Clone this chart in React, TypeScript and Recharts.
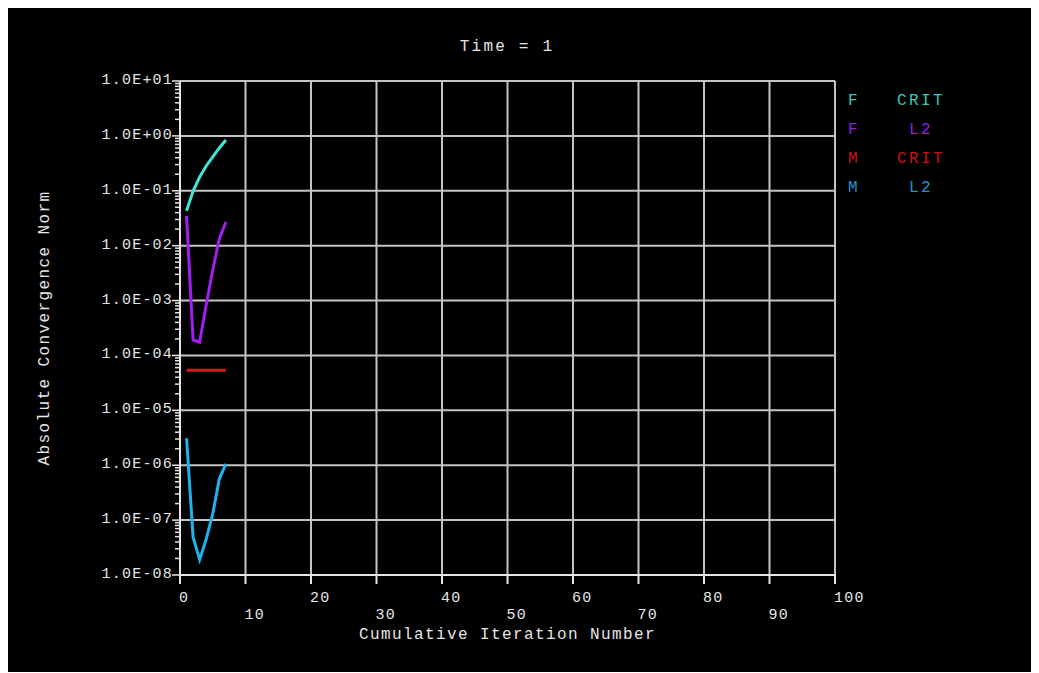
import * as React from "react";
import {
  CartesianGrid,
  Line,
  LineChart,
  ReferenceLine,
  XAxis,
  YAxis,
} from "recharts";

const MONO = "'Liberation Mono', 'DejaVu Sans Mono', monospace";
const TEXT = "#e6e6e6";
const GRID = "#c4c4c4";

// cumulative iteration numbers
const ITERATIONS = [1, 2, 3, 4, 5, 6, 7];

// convergence norms
const F_CRIT = [0.043, 0.099, 0.178, 0.283, 0.413, 0.603, 0.84];
const F_L2 = [0.0348, 1.91e-4, 1.76e-4, 8.3e-4, 3.6e-3, 0.0132, 0.027];
const M_CRIT = [5.4e-5, 5.4e-5, 5.4e-5, 5.4e-5, 5.4e-5, 5.4e-5, 5.4e-5];
const M_L2 = [3.1e-6, 4.9e-8, 1.9e-8, 4.5e-8, 1.3e-7, 5.6e-7, 1.06e-6];

const X_TICKS = [0, 10, 20, 30, 40, 50, 60, 70, 80, 90, 100];
const X_TICK_LABELS = ["0", "10", "20", "30", "40", "50", "60", "70", "80", "90", "100"];

const Y_MAJOR = [1e-8, 1e-7, 1e-6, 1e-5, 1e-4, 1e-3, 1e-2, 1e-1, 1, 10];
const Y_TICK_LABELS = [
  "1.0E-08",
  "1.0E-07",
  "1.0E-06",
  "1.0E-05",
  "1.0E-04",
  "1.0E-03",
  "1.0E-02",
  "1.0E-01",
  "1.0E+00",
  "1.0E+01",
];
const MINOR_FACTORS = [2, 3, 4, 5, 6, 7, 8, 9];

const SERIES = [
  { key: "fCrit", name: "F", label: "CRIT", stroke: "#3ee6d6", text: "#3cc8b8" },
  { key: "fL2", name: "F", label: "L2", stroke: "#a21ef0", text: "#9422dc" },
  { key: "mCrit", name: "M", label: "CRIT", stroke: "#e01414", text: "#cc1212" },
  { key: "mL2", name: "M", label: "L2", stroke: "#1eb2ee", text: "#2292d2" },
];

const rows = ITERATIONS.map((it, i) => ({
  it,
  fCrit: F_CRIT[i],
  fL2: F_L2[i],
  mCrit: M_CRIT[i],
  mL2: M_L2[i],
}));

const yTicks = [
  ...Y_MAJOR,
  ...Y_MAJOR.slice(0, -1).flatMap((d) => MINOR_FACTORS.map((m) => m * d)),
];

function XTick(props: any) {
  const { x, y, index } = props;
  const odd = index % 2 === 1;
  return (
    <g>
      <line x1={x} y1={y} x2={x} y2={y + 9} stroke={TEXT} strokeWidth={2} />
      <text
        x={x - 1}
        y={y + (odd ? 44 : 27)}
        textAnchor="start"
        fill={TEXT}
        fontFamily={MONO}
        fontSize={15}
        letterSpacing={1.2}
      >
        {X_TICK_LABELS[index]}
      </text>
    </g>
  );
}

function YTick(props: any) {
  const { x, y, payload } = props;
  const i = Y_MAJOR.indexOf(payload.value);
  if (i < 0) {
    return <line x1={x - 5} y1={y} x2={x} y2={y} stroke={TEXT} strokeWidth={1.5} />;
  }
  return (
    <g>
      <line x1={x - 8} y1={y} x2={x} y2={y} stroke={TEXT} strokeWidth={1.5} />
      <text
        x={x - 7}
        y={y + 3}
        textAnchor="end"
        fill={TEXT}
        fontFamily={MONO}
        fontSize={15}
        letterSpacing={1.2}
      >
        {Y_TICK_LABELS[i]}
      </text>
    </g>
  );
}

function YLabel(props: any) {
  const { viewBox } = props;
  const cx = 37;
  const cy = viewBox.y + viewBox.height / 2;
  return (
    <text
      x={cx}
      y={cy}
      transform={`rotate(-90 ${cx} ${cy})`}
      textAnchor="middle"
      dominantBaseline="central"
      fill={TEXT}
      fontFamily={MONO}
      fontSize={16}
      letterSpacing={1.4}
    >
      Absolute Convergence Norm
    </text>
  );
}

function XLabel(props: any) {
  const { viewBox } = props;
  return (
    <text
      x={viewBox.x + viewBox.width / 2}
      y={viewBox.y + 64}
      textAnchor="middle"
      fill={TEXT}
      fontFamily={MONO}
      fontSize={16}
      letterSpacing={1.4}
    >
      Cumulative Iteration Number
    </text>
  );
}

export default function App() {
  return (
    <div
      style={{
        position: "relative",
        width: 1031,
        height: 665,
        background: "#000",
        marginTop: -1,
      }}
    >
      <div
        style={{
          position: "absolute",
          top: 30,
          left: 0,
          width: 998,
          textAlign: "center",
          lineHeight: "20px",
          color: TEXT,
          fontFamily: MONO,
          fontSize: 16,
          letterSpacing: 2.2,
        }}
      >
        Time = 1
      </div>
      <LineChart
        width={1031}
        height={665}
        data={rows}
        margin={{ top: 74, right: 204, bottom: 0, left: 0 }}
      >
        <CartesianGrid horizontal={false} stroke={GRID} strokeWidth={2} />
        {Y_MAJOR.slice(1).map((v) => (
          <ReferenceLine key={v} y={v} stroke={GRID} strokeWidth={2} />
        ))}
        <XAxis
          dataKey="it"
          type="number"
          domain={[0, 100]}
          ticks={X_TICKS}
          interval={0}
          tickSize={0}
          tickMargin={0}
          height={97}
          axisLine={{ stroke: TEXT, strokeWidth: 2 }}
          tick={XTick}
          allowDataOverflow
          label={XLabel}
        />
        <YAxis
          type="number"
          scale="log"
          domain={[1e-8, 10]}
          ticks={yTicks}
          interval={0}
          tickSize={0}
          tickMargin={0}
          width={172}
          axisLine={{ stroke: TEXT, strokeWidth: 2 }}
          tick={YTick}
          allowDataOverflow
          label={YLabel}
        />
        {SERIES.map((s) => (
          <Line
            key={s.key}
            dataKey={s.key}
            stroke={s.stroke}
            strokeWidth={3}
            dot={false}
            type="linear"
            isAnimationActive={false}
          />
        ))}
      </LineChart>
      <div
        style={{
          position: "absolute",
          top: 80,
          left: 840,
          fontFamily: MONO,
          fontSize: 16,
          letterSpacing: 2.4,
          lineHeight: "29px",
        }}
      >
        {SERIES.map((s) => (
          <div key={s.key} style={{ display: "flex", color: s.text }}>
            <span style={{ width: 41 }}>{s.name}</span>
            <span style={{ width: 64, textAlign: "center" }}>{s.label}</span>
          </div>
        ))}
      </div>
    </div>
  );
}
